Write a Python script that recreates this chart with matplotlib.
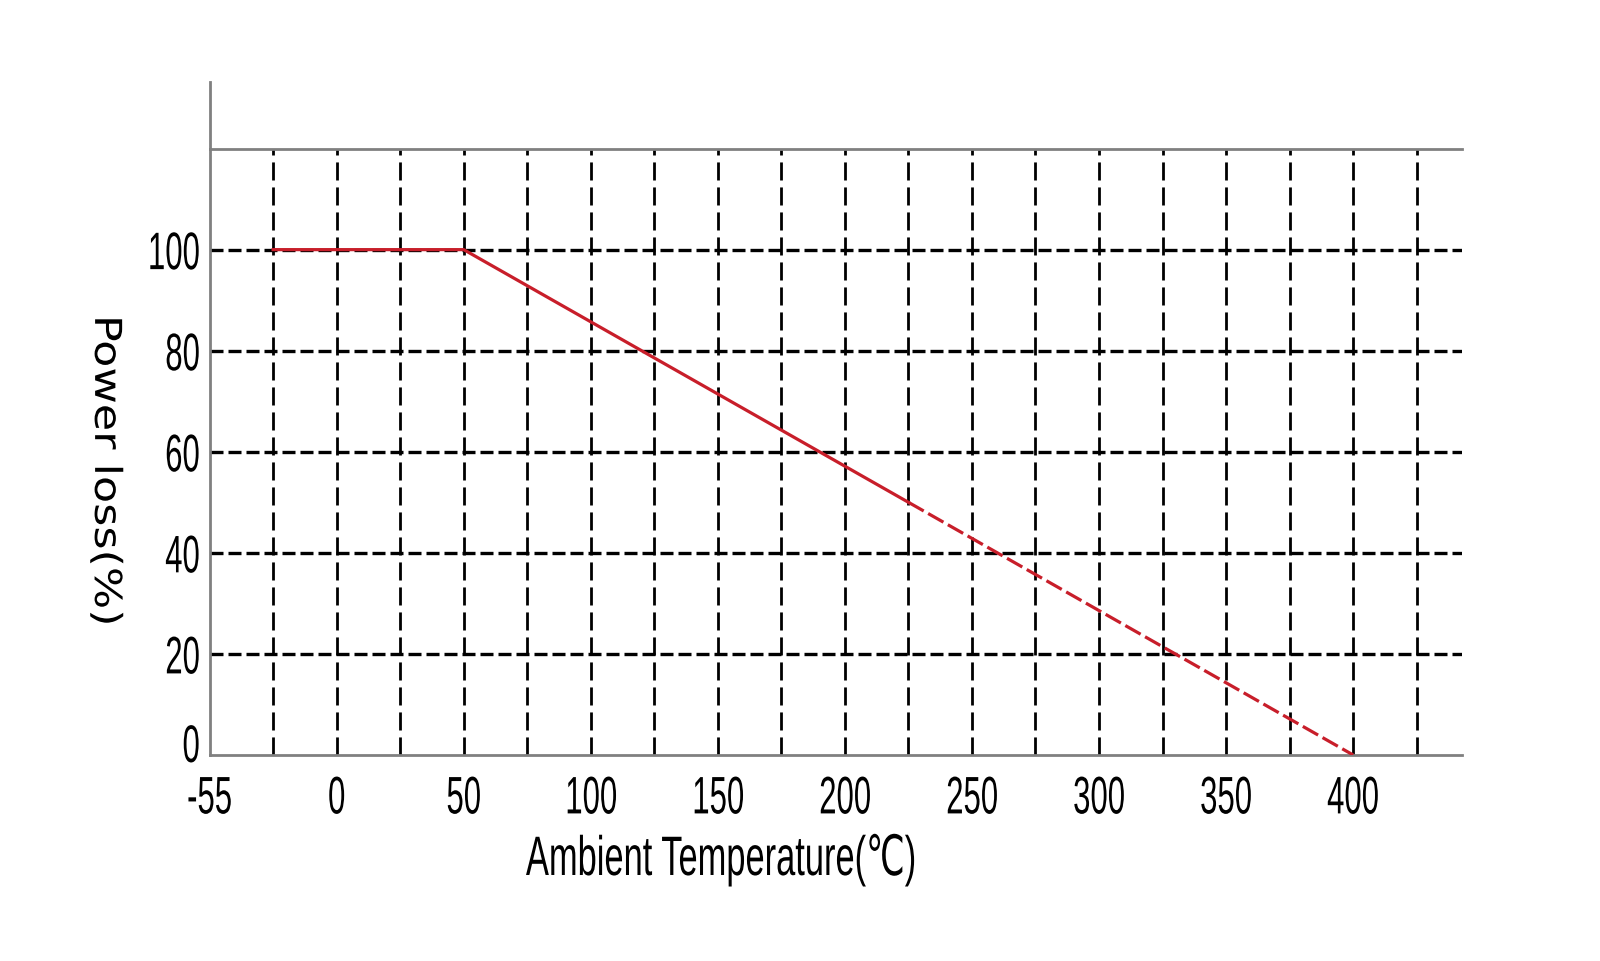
import matplotlib
matplotlib.use("Agg")
import matplotlib.pyplot as plt
from matplotlib.patheffects import AbstractPathEffect
from matplotlib.transforms import Affine2D, ScaledTranslation

# derating curve: solid part, then dashed extension to zero
temp_solid = [-25, 50, 225]
loss_solid = [100, 100, 50]
temp_dash = [225, 400]
loss_dash = [50, 0]

x_ticks = [-50, 0, 50, 100, 150, 200, 250, 300, 350, 400]
x_labels = ["-55", "0", "50", "100", "150", "200", "250", "300", "350", "400"]
x_grid = [-25, 0, 25, 50, 75, 100, 125, 150, 175, 200, 225, 250, 275, 300, 325, 350, 375, 400, 425]
y_ticks = [0, 20, 40, 60, 80, 100]


class Squeeze(AbstractPathEffect):
    """scale the drawn text path (fake condensed font)"""

    def __init__(self, sx=1.0, sy=1.0, anchor="center"):
        super().__init__()
        self.sx, self.sy, self.anchor = sx, sy, anchor

    def draw_path(self, renderer, gc, tpath, affine, rgbFace=None):
        ext = affine.transform_path(tpath).get_extents()
        cx = ext.x1 if self.anchor == "right" else (ext.x0 + ext.x1) / 2
        cy = (ext.y0 + ext.y1) / 2
        t = Affine2D().translate(-cx, -cy).scale(self.sx, self.sy).translate(cx, cy)
        renderer.draw_path(gc, tpath, affine + t, rgbFace)


fig = plt.figure(figsize=(16, 9.61), dpi=100)
ax = fig.add_axes([0.131, 0.2144, 0.783, 0.631])
ax.set_xlim(-50, 443)
ax.set_ylim(0, 120)

for x in x_grid:
    ax.axvline(x, color="black", lw=2, dashes=(6.5, 2.5), zorder=1)
for y in y_ticks[1:]:
    ax.axhline(y, color="black", lw=2.4, dashes=(3.9, 1.5), zorder=1)

red = "#c81e2a"
ax.plot(temp_solid, loss_solid, color=red, lw=2.3, zorder=3)
ax.plot(temp_dash, loss_dash, color=red, lw=2.3, dashes=(5.5, 1.6), zorder=3)

for s in ax.spines.values():
    s.set_color("#808080")
    s.set_linewidth(2)
ax.spines["right"].set_visible(False)
# left spine sticks out above the frame
ax.axvline(-50, ymin=1, ymax=1.11, color="#808080", lw=2, clip_on=False)

ax.set_xticks(x_ticks)
ax.set_xticklabels(x_labels, fontsize=38, family="Liberation Sans")
ax.set_yticks(y_ticks)
ax.set_yticklabels([str(v) for v in y_ticks], fontsize=38, family="Liberation Sans")
ax.tick_params(axis="both", length=0)
ax.tick_params(axis="x", pad=14)
ax.tick_params(axis="y", pad=6.5)
for lab in ax.get_xticklabels():
    lab.set_path_effects([Squeeze(0.59)])
ylabs = ax.get_yticklabels()
for lab in ylabs:
    lab.set_path_effects([Squeeze(0.59, anchor="right")])
# the "0" label sits a bit above the axis line
ylabs[0].set_transform(ylabs[0].get_transform() + ScaledTranslation(0, 9 / 72, fig.dpi_scale_trans))

fig.text(0.451, 0.0895, "Ambient Temperature(℃)", fontsize=40,
         family=["Liberation Sans", "DejaVu Sans"], ha="center", va="baseline",
         path_effects=[Squeeze(0.62)])
fig.text(0.066, 0.51, "Power loss(%)", rotation=270, fontsize=26.7, family="DejaVu Sans",
         ha="center", va="center", path_effects=[Squeeze(1.0, 1.2)])

fig.savefig("out.png", dpi=100, facecolor="white")
